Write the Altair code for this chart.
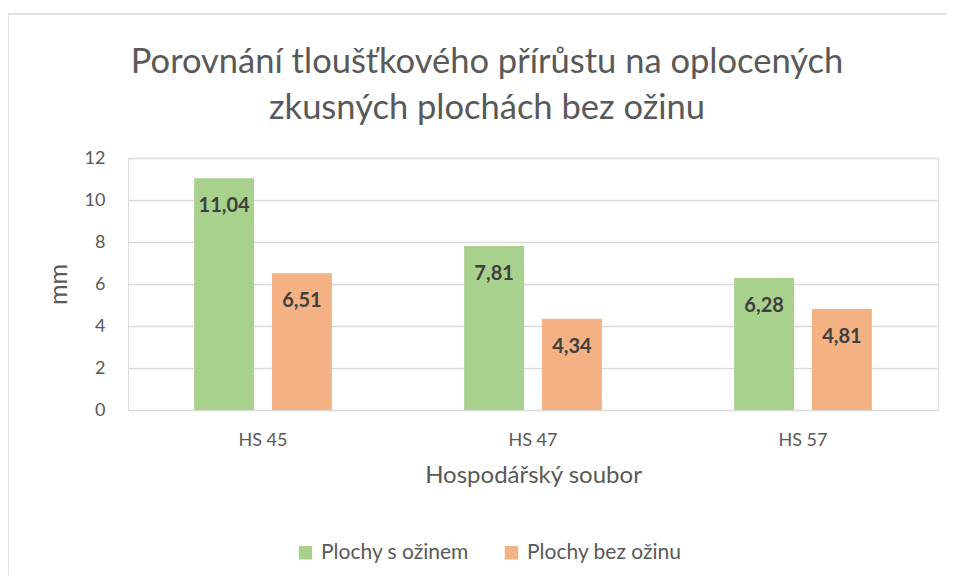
import altair as alt
import pandas as pd

categories = ["HS 45", "HS 47", "HS 57"]
series_names = ["Plochy s ožinem", "Plochy bez ožinu"]
s_ozinem = [11.04, 7.81, 6.28]
bez_oziny = [6.51, 4.34, 4.81]
y_ticks = [0, 2, 4, 6, 8, 10, 12]
colors = ["#a9d18e", "#f4b183"]
title_lines = ["Porovnání tloušťkového přírůstu na oplocených", "zkusných plochách bez ožinu"]

rows = []
for c, a, b in zip(categories, s_ozinem, bez_oziny):
    rows.append({"cat": c, "series": series_names[0], "value": a})
    rows.append({"cat": c, "series": series_names[1], "value": b})
df = pd.DataFrame(rows)

FONT = "Lato"
GRAY = "#595959"

x = alt.X("cat:N", sort=categories,
          scale=alt.Scale(paddingInner=0.49, paddingOuter=0.245),
          axis=alt.Axis(title="Hospodářský soubor", labelAngle=0, ticks=False, domain=False,
                        labelFont=FONT, labelFontSize=18, labelColor=GRAY, labelPadding=21,
                        titleFont=FONT, titleFontSize=24, titleColor=GRAY, titleFontWeight="normal",
                        titlePadding=14))
y = alt.Y("value:Q", scale=alt.Scale(domain=[0, 12], nice=False),
          axis=alt.Axis(title="mm", values=y_ticks, ticks=False, domain=False,
                        gridColor="#d9d9d9", gridWidth=1.3,
                        labelFont=FONT, labelFontSize=18, labelColor=GRAY, labelPadding=23,
                        titleFont=FONT, titleFontSize=25, titleColor=GRAY, titleFontWeight="normal",
                        titleX=-70, titleBaseline="middle"))
xoff = alt.XOffset("series:N", sort=series_names, scale=alt.Scale(paddingInner=0.23, paddingOuter=0))
color = alt.Color("series:N", sort=series_names,
                  scale=alt.Scale(domain=series_names, range=colors),
                  legend=alt.Legend(title=None, orient="none", direction="horizontal",
                                    legendX=167, legendY=384,
                                    symbolType="square", symbolSize=180, symbolStrokeWidth=0,
                                    labelFont=FONT, labelFontSize=21, labelColor=GRAY,
                                    labelOffset=5, columnPadding=32))

border = alt.Chart(alt.Data(values=[{}])).mark_rect(
    fill=None, stroke="#d9d9d9", strokeWidth=1.5
).encode(x=alt.value(-120), x2=alt.value(1000), y=alt.value(-144), y2=alt.value(600))

bars = alt.Chart(df).mark_bar().encode(x=x, y=y, xOffset=xoff, color=color)

labels = alt.Chart(df).mark_text(
    font=FONT, fontSize=20, fontWeight="bold", color="#404040", baseline="middle", dy=28
).transform_calculate(
    lab="replace(format(datum.value, '.2f'), '.', ',')"
).encode(x=x, y=y, xOffset=xoff, text="lab:N")

chart = alt.layer(border, bars, labels).properties(
    width=810, height=252,
    padding={"left": 120, "top": 150, "right": 9, "bottom": 165},
    autosize=alt.AutoSizeParams(type="none"),
    title=alt.TitleParams(text=title_lines, font=FONT, fontSize=34.5, fontWeight="normal",
                          color=GRAY, lineHeight=46, anchor="middle", dx=-46, offset=-113),
).configure_view(stroke=None).configure(background="white")

chart.save("out.html", embed_options={"renderer": "svg", "actions": False})
